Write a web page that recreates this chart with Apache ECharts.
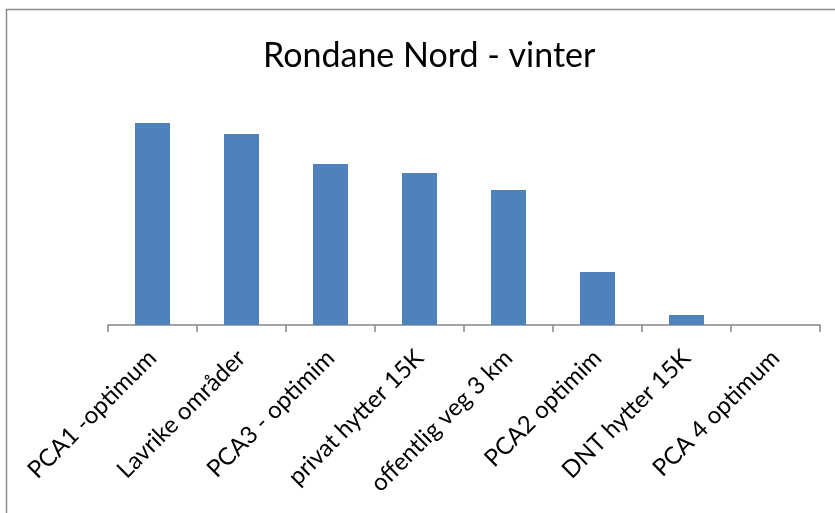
<!DOCTYPE html>
<html>
<head>
<meta charset="utf-8">
<script src="https://cdn.jsdelivr.net/npm/echarts@6/dist/echarts.min.js"></script>
<style>
  html, body { margin: 0; padding: 0; background: #fff; }
  #chart { width: 835px; height: 513px; }
</style>
</head>
<body>
<div id="chart"></div>
<script>
// Categories along the x axis
const categories = [
  'PCA1 -optimum',
  'Lavrike områder',
  'PCA3 - optimim',
  'privat hytter 15K',
  'offentlig veg 3 km',
  'PCA2 optimim',
  'DNT hytter 15K',
  'PCA 4 optimum'
];

// Bar values
const values = [20.2, 19.1, 16.1, 15.2, 13.5, 5.3, 1.0, 0];

const chart = echarts.init(document.getElementById('chart'), null, { renderer: 'canvas' });

chart.setOption({
  animation: false,
  backgroundColor: '#ffffff',
  title: {
    text: 'Rondane Nord - vinter',
    left: 258,
    top: 34,
    textStyle: {
      fontFamily: 'Lato',
      fontWeight: 'normal',
      fontSize: 34,
      color: '#000000'
    }
  },
  graphic: [{
    type: 'rect',
    shape: { x: 6.5, y: 9.5, width: 840, height: 520 },
    style: { fill: 'none', stroke: '#8c8c8c', lineWidth: 1.5 },
    silent: true
  }],
  grid: { left: 108, right: 15, top: 75, bottom: 188 },
  xAxis: {
    type: 'category',
    data: categories,
    axisLine: { lineStyle: { color: '#868686', width: 1.5 } },
    axisTick: { show: true, length: 7, lineStyle: { color: '#868686', width: 1.5 } },
    axisLabel: {
      rotate: 45,
      interval: 0,
      margin: 29,
      fontFamily: 'Lato',
      fontSize: 24,
      color: '#000000'
    }
  },
  yAxis: {
    type: 'value',
    min: 0,
    max: 25,
    show: false,
    splitLine: { show: false }
  },
  series: [{
    type: 'bar',
    data: values,
    barWidth: 35,
    itemStyle: { color: '#4f81bd' }
  }]
});
</script>
</body>
</html>
